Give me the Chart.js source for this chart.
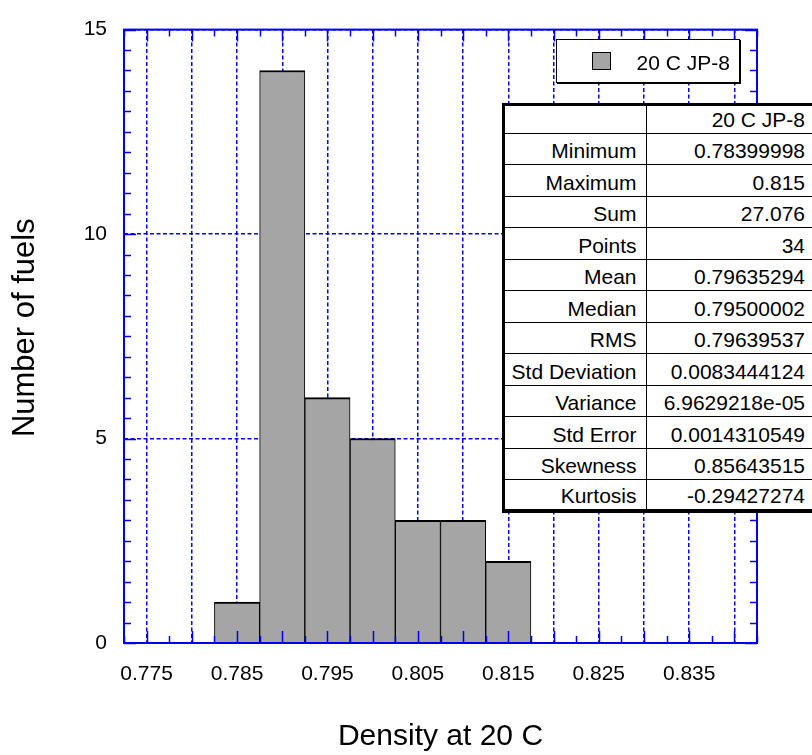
<!DOCTYPE html>
<html>
<head>
<meta charset="utf-8">
<script src="https://cdn.jsdelivr.net/npm/chart.js@4.4.1/dist/chart.umd.min.js"></script>
<style>
  html, body { margin: 0; padding: 0; background: #fff; overflow: hidden; }
  #wrap { position: relative; width: 812px; height: 755px; }
  #grafico { position: absolute; left: 0; top: 0; }
  .fonte { font-family: "Liberation Sans", Arial, sans-serif; font-size: 21px; color: #000; }

  /* caixa da legenda */
  #legenda { position: absolute; left: 556px; top: 39.3px; width: 182.4px; height: 41.4px;
             border: 1.3px solid #000; box-shadow: 1px 1px 0 #000; background: #fff; }
  #legenda .amostra { position: absolute; left: 34.7px; top: 12.1px; width: 17px; height: 16px;
                      background: #a5a5a5; border: 1.5px solid #000; }
  #legenda .rotulo { position: absolute; left: 79.5px; top: 10.8px; line-height: 24px; white-space: nowrap; }

  /* tabela de estatísticas */
  #tabela { position: absolute; left: 502px; top: 102.5px; width: 310px; background: #fff;
            border-left: 3px solid #000; border-top: 3px solid #000; border-bottom: 4px solid #000; }
  #tabela .linha { display: flex; box-sizing: border-box; height: 31.5px; border-bottom: 1px solid #000; }
  #tabela .linha.cabecalho { height: 28px; }
  #tabela .linha.ultima { height: 28.5px; border-bottom: none; }
  #tabela .celula { box-sizing: border-box; display: flex; align-items: flex-end; justify-content: flex-end;
                    line-height: 24px; padding-bottom: 1px; white-space: nowrap; }
  #tabela .nome { width: 142px; border-right: 1px solid #000; padding-right: 9.5px; }
  #tabela .valor { width: 168px; padding-right: 10px; }
</style>
</head>
<body>
<div id="wrap">
  <canvas id="grafico" width="812" height="755"></canvas>
  <div id="legenda" class="fonte"><span class="amostra"></span><span class="rotulo" id="legendaTexto"></span></div>
  <div id="tabela" class="fonte"></div>
</div>
<script>
// ---- dados do histograma (centro das classes e quantidade de combustíveis)
const binCenters = [0.785, 0.790, 0.795, 0.800, 0.805, 0.810, 0.815];
const fuelCounts = [1, 14, 6, 5, 3, 3, 2];
const seriesName = '20 C JP-8';

// ---- marcas dos eixos
const xTickValues = [0.775, 0.780, 0.785, 0.790, 0.795, 0.800, 0.805, 0.810, 0.815, 0.820, 0.825, 0.830, 0.835, 0.840];
const xTickLabels = ['0.775', '', '0.785', '', '0.795', '', '0.805', '', '0.815', '', '0.825', '', '0.835', ''];
const yTickValues = [0, 5, 10, 15];
const yTickLabels = ['0', '5', '10', '15'];

// ---- estatísticas da tabela
const statNames = ['Minimum', 'Maximum', 'Sum', 'Points', 'Mean', 'Median', 'RMS',
                   'Std Deviation', 'Variance', 'Std Error', 'Skewness', 'Kurtosis'];
const statValues = ['0.78399998', '0.815', '27.076', '34', '0.79635294', '0.79500002', '0.79639537',
                    '0.0083444124', '6.9629218e-05', '0.0014310549', '0.85643515', '-0.29427274'];

const azul = '#0000f0';
const fonte = '"Liberation Sans", Arial, sans-serif';

// ---- legenda e tabela em HTML
document.getElementById('legendaTexto').textContent = seriesName;

const tabela = document.getElementById('tabela');
const linhas = [['', seriesName]].concat(statNames.map((n, i) => [n, statValues[i]]));
linhas.forEach((l, i) => {
    const linha = document.createElement('div');
    linha.className = 'linha' + (i === 0 ? ' cabecalho' : '') + (i === linhas.length - 1 ? ' ultima' : '');
    const nome = document.createElement('div');
    nome.className = 'celula nome';
    nome.textContent = l[0];
    const valor = document.createElement('div');
    valor.className = 'celula valor';
    valor.textContent = l[1];
    linha.appendChild(nome);
    linha.appendChild(valor);
    tabela.appendChild(linha);
});

// ---- moldura azul com marcas para dentro
const molduraPlugin = {
    id: 'moldura',
    afterDatasetsDraw(chart) {
        const {ctx, chartArea: a, scales: {x, y}} = chart;
        ctx.save();
        ctx.strokeStyle = azul;
        ctx.lineWidth = 1.5;
        ctx.beginPath();
        // marcas do eixo x a cada 0.0025
        for (let k = 0; k <= 28; k++) {
            const v = x.min + k * 0.0025;
            const px = Math.round(x.getPixelForValue(v)) + 0.5;
            const len = (k % 2 === 1) ? 12 : 7;
            ctx.moveTo(px, a.bottom); ctx.lineTo(px, a.bottom - len);
            ctx.moveTo(px, a.top); ctx.lineTo(px, a.top + len);
        }
        // marcas do eixo y a cada 0.5
        for (let k = 0; k <= 30; k++) {
            const v = k * 0.5;
            const py = Math.round(y.getPixelForValue(v)) + 0.5;
            const len = (k % 10 === 0) ? 12 : 7;
            ctx.moveTo(a.left, py); ctx.lineTo(a.left + len, py);
            ctx.moveTo(a.right, py); ctx.lineTo(a.right - len, py);
        }
        ctx.stroke();
        ctx.lineWidth = 2;
        ctx.strokeRect(a.left, a.top, a.right - a.left, a.bottom - a.top);
        ctx.restore();
    }
};

Chart.defaults.font.family = fonte;
Chart.defaults.color = '#000';

const ctx = document.getElementById('grafico').getContext('2d');
const graficoDensidade = new Chart(ctx, {
    type: 'bar',
    data: {
        datasets: [{
            label: seriesName,
            data: binCenters.map((c, i) => ({x: c, y: fuelCounts[i]})),
            backgroundColor: '#a5a5a5',
            borderColor: '#000',
            borderWidth: {top: 2, left: 1, right: 1, bottom: 0},
            borderSkipped: 'bottom',
            barPercentage: 1,
            categoryPercentage: 1
        }]
    },
    options: {
        responsive: false,
        animation: false,
        devicePixelRatio: 1,
        layout: { padding: {top: 15, right: 55, left: 0, bottom: 0} },
        plugins: {
            legend: { display: false },
            tooltip: { enabled: false }
        },
        scales: {
            x: {
                type: 'linear',
                min: 0.7725,
                max: 0.8425,
                offset: false,
                afterBuildTicks: s => { s.ticks = xTickValues.map(v => ({value: v})); },
                afterFit: s => { s.height = 112; },
                grid: { color: azul, lineWidth: 1.5, drawTicks: false, offset: false },
                border: { display: false, dash: [4, 2.5] },
                ticks: {
                    padding: 19,
                    font: {size: 21},
                    maxRotation: 0,
                    autoSkip: false,
                    callback: (v, i) => xTickLabels[i]
                },
                title: {
                    display: true,
                    text: 'Density at 20 C',
                    font: {size: 30},
                    padding: {top: 0, bottom: 0}
                }
            },
            y: {
                min: 0,
                max: 15,
                afterBuildTicks: s => { s.ticks = yTickValues.map(v => ({value: v})); },
                afterFit: s => { s.width = 124; },
                grid: { color: azul, lineWidth: 1.5, drawTicks: false },
                border: { display: false, dash: [4, 2.5] },
                ticks: {
                    padding: 17,
                    font: {size: 21},
                    callback: (v, i) => yTickLabels[i]
                },
                title: {
                    display: true,
                    // dois espaços à esquerda sobem o título para a mesma altura da referência
                    text: '  Number of fuels',
                    font: {size: 31},
                    padding: {top: 7, bottom: 0}
                }
            }
        }
    },
    plugins: [molduraPlugin]
});
</script>
</body>
</html>
